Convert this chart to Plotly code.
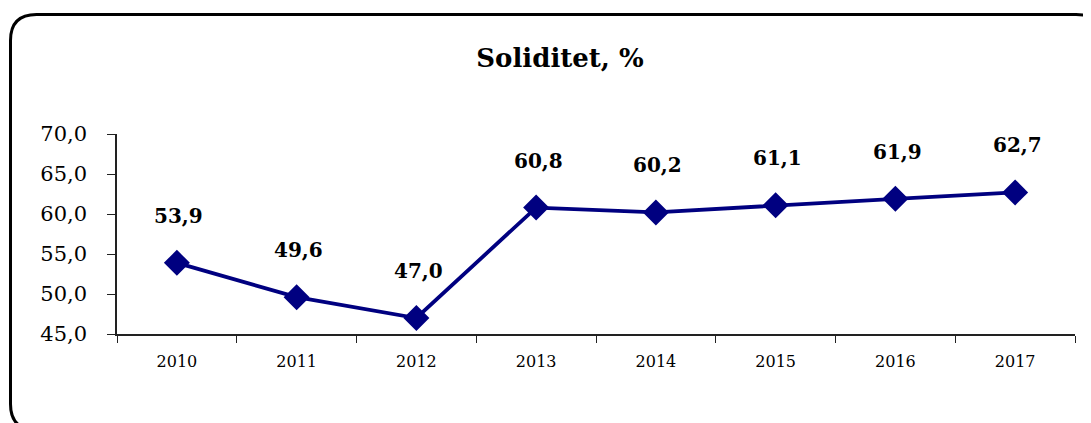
import plotly.graph_objects as go

years = ["2010", "2011", "2012", "2013", "2014", "2015", "2016", "2017"]
values = [53.9, 49.6, 47.0, 60.8, 60.2, 61.1, 61.9, 62.7]
title_text = "Soliditet, %"

OFF = 8  # browser body margin
W, H = 1091 - OFF, 423 - OFF
ml, mr, mt, mb = 117 - OFF, 16, 134 - OFF, 89
pw, ph = W - ml - mr, H - mt - mb

def px(x):
    return (x - OFF - ml) / pw

def py(y):
    return (H - mb - (y - OFF)) / ph

font_family = "DejaVu Serif"
navy = "#000080"

fig = go.Figure()
fig.add_trace(go.Scatter(
    x=years, y=values, mode="lines+markers",
    line=dict(color=navy, width=3.8),
    marker=dict(symbol="diamond", size=20, color=navy),
    cliponaxis=False, showlegend=False, hoverinfo="skip",
))

for i, v in enumerate(values):
    fig.add_annotation(
        x=i, y=v, xref="x", yref="y",
        text="<b>" + f"{v:.1f}".replace(".", ",") + "</b>",
        showarrow=False, yshift=47, xshift=2,
        font=dict(family=font_family, size=20, color="black"),
    )

# rounded border
L, R, T, B = px(10.5), px(1102), py(14.5), py(430)
rx, ry = 26 / pw, 26 / ph
path = (f"M {L+rx},{T} L {R-rx},{T} Q {R},{T} {R},{T-ry} "
        f"L {R},{B+ry} Q {R},{B} {R-rx},{B} L {L+rx},{B} Q {L},{B} {L},{B+ry} "
        f"L {L},{T-ry} Q {L},{T} {L+rx},{T} Z")
fig.add_shape(type="path", path=path, xref="paper", yref="paper",
              line=dict(color="black", width=3), fillcolor="rgba(0,0,0,0)", layer="below")

fig.update_layout(
    width=W, height=H,
    margin=dict(l=ml, r=mr, t=mt, b=mb),
    paper_bgcolor="white", plot_bgcolor="white",
    separators=", ",
    title=dict(text="<b>" + title_text + "</b>", xref="container", x=(560 - OFF) / W,
               xanchor="center", y=1 - (58 - OFF) / H, yanchor="middle",
               font=dict(family=font_family, size=26, color="black")),
    xaxis=dict(type="category", range=[-0.5, 7.5], showgrid=False,
               showline=True, linecolor="#222", linewidth=1.5,
               ticks="outside", ticklen=7, tickcolor="#222", tickson="boundaries",
               tickfont=dict(family=font_family, size=16, color="black"),
               ticklabelstandoff=12,
               zeroline=False, fixedrange=True),
    yaxis=dict(range=[45, 70], dtick=5, tickformat=".1f", showgrid=False,
               showline=True, linecolor="#222", linewidth=1.5,
               ticks="outside", ticklen=8, tickcolor="#222",
               tickfont=dict(family=font_family, size=21, color="black"),
               ticklabelstandoff=16,
               zeroline=False, fixedrange=True),
)

fig.write_html("out.html")
